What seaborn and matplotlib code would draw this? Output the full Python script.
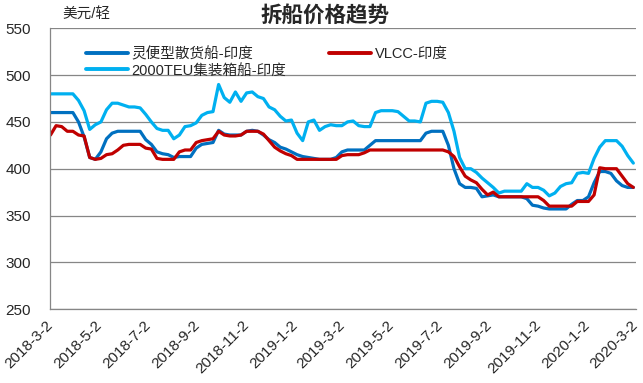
import pandas as pd
import numpy as np
import matplotlib.pyplot as plt
import matplotlib.dates as md
from matplotlib.lines import Line2D
import seaborn as sns

#%% data (weekly)
dates = pd.date_range('2018-03-02', periods=105, freq='7D')

bulk = [460, 460, 460, 460, 460, 450, 434, 412, 410, 418,
        432, 438, 440, 440, 440, 440, 440, 431, 426, 418,
        416, 415, 412, 413, 413, 413, 422, 426, 427, 428,
        441, 437, 436, 436, 436, 440, 441, 440, 436, 431,
        428, 423, 421, 418, 415, 413, 412, 411, 410, 410,
        410, 412, 418, 420, 420, 420, 420, 425, 430, 430,
        430, 430, 430, 430, 430, 430, 430, 438, 440, 440,
        440, 425, 400, 384, 380, 380, 379, 370, 371, 372,
        370, 370, 370, 370, 370, 368, 361, 360, 358, 357,
        357, 357, 357, 362, 366, 366, 370, 385, 397, 397,
        395, 387, 382, 380, 380]

vlcc = [436, 446, 445, 440, 440, 436, 435, 412, 410, 411,
        415, 416, 420, 425, 426, 426, 426, 422, 421, 411,
        410, 410, 410, 418, 420, 420, 428, 430, 431, 432,
        440, 436, 435, 435, 436, 440, 440, 440, 437, 430,
        423, 419, 416, 414, 410, 410, 410, 410, 410, 410,
        410, 410, 414, 415, 415, 415, 417, 420, 420, 420,
        420, 420, 420, 420, 420, 420, 420, 420, 420, 420,
        420, 418, 413, 402, 392, 388, 385, 378, 372, 375,
        370, 370, 370, 370, 370, 370, 370, 370, 366, 360,
        360, 360, 360, 360, 365, 365, 365, 372, 401, 400,
        400, 400, 392, 384, 380]

container = [480, 480, 480, 480, 480, 473, 462, 442, 447, 450,
             463, 470, 470, 468, 466, 466, 465, 458, 450, 443,
             441, 441, 432, 436, 445, 446, 449, 457, 460, 461,
             490, 476, 471, 482, 472, 481, 482, 477, 475, 466,
             463, 456, 451, 452, 438, 430, 450, 452, 441, 445,
             447, 446, 446, 450, 451, 446, 445, 445, 460, 462,
             462, 462, 461, 456, 451, 451, 450, 470, 472, 472,
             471, 460, 440, 412, 400, 400, 396, 390, 385, 380,
             374, 376, 376, 376, 376, 384, 380, 380, 377, 371,
             374, 381, 384, 385, 395, 396, 395, 411, 423, 430,
             430, 430, 424, 414, 406]

names = ['灵便型散货船-印度', 'VLCC-印度', '2000TEU集装箱船-印度']
colors = ['#0070C0', '#C00000', '#00B0F0']

tick_dates = ['2018-03-02', '2018-05-02', '2018-07-02', '2018-09-02', '2018-11-02',
              '2019-01-02', '2019-03-02', '2019-05-02', '2019-07-02', '2019-09-02',
              '2019-11-02', '2020-01-02', '2020-03-02']
tick_labels = ['2018-3-2', '2018-5-2', '2018-7-2', '2018-9-2', '2018-11-2', '2019-1-2',
               '2019-3-2', '2019-5-2', '2019-7-2', '2019-9-2', '2019-11-2', '2020-1-2', '2020-3-2']

df = pd.concat([pd.DataFrame({'date': dates, 'value': v, 'series': n})
                for v, n in zip([bulk, vlcc, container], names)])

#%% figure
sns.set_style('white')
plt.rcParams['font.family'] = ['Liberation Sans', 'Noto Sans CJK SC']

fig = plt.figure(figsize=(6.43, 3.83), dpi=100)
ax = fig.add_axes([0.0785, 0.193, 0.9102, 0.733])

# container first, VLCC drawn on top
sns.lineplot(data=df, x='date', y='value', hue='series',
             hue_order=[names[2], names[0], names[1]],
             palette=dict(zip(names, colors)), linewidth=2.3, estimator=None,
             legend=False, ax=ax)

ax.set_ylim(250, 550)
ax.set_yticks(np.arange(250, 551, 50))
ax.set_xlim(pd.Timestamp('2018-03-02'), pd.Timestamp('2020-03-02'))
ax.set_xticks(pd.to_datetime(tick_dates))
ax.set_xticklabels(tick_labels, rotation=45, ha='right', va='center',
                   rotation_mode='anchor', fontsize=11)
ax.tick_params(axis='x', length=4, width=0.9, color='#868686', pad=6, direction='out')
ax.tick_params(axis='y', length=0, pad=14, labelsize=11)
ax.set_xlabel('')
ax.set_ylabel('')

ax.grid(axis='y', color='#868686', lw=0.9)
ax.set_axisbelow(True)
for s in ['top', 'right']:
    ax.spines[s].set_visible(False)
for s in ['left', 'bottom']:
    ax.spines[s].set_color('#868686')
    ax.spines[s].set_linewidth(0.9)

handles = [Line2D([], [], color=colors[0], lw=2.8),
           Line2D([], [], color=colors[2], lw=2.8),
           Line2D([], [], color=colors[1], lw=2.8)]
ax.legend(handles, [names[0], names[2], names[1]], ncol=2, frameon=False,
          loc='upper left', bbox_to_anchor=(0.05, 0.955), fontsize=10.5,
          handlelength=2.9, handletextpad=0.25, columnspacing=2.9,
          labelspacing=0.15, borderaxespad=0)

fig.text(0.505, 0.958, '拆船价格趋势', ha='center', va='center',
         fontsize=15.5, fontweight='bold')
fig.text(0.097, 0.962, '美元/轻', ha='left', va='center', fontsize=10.5)

fig.savefig('out.png', dpi=100, facecolor='w')
